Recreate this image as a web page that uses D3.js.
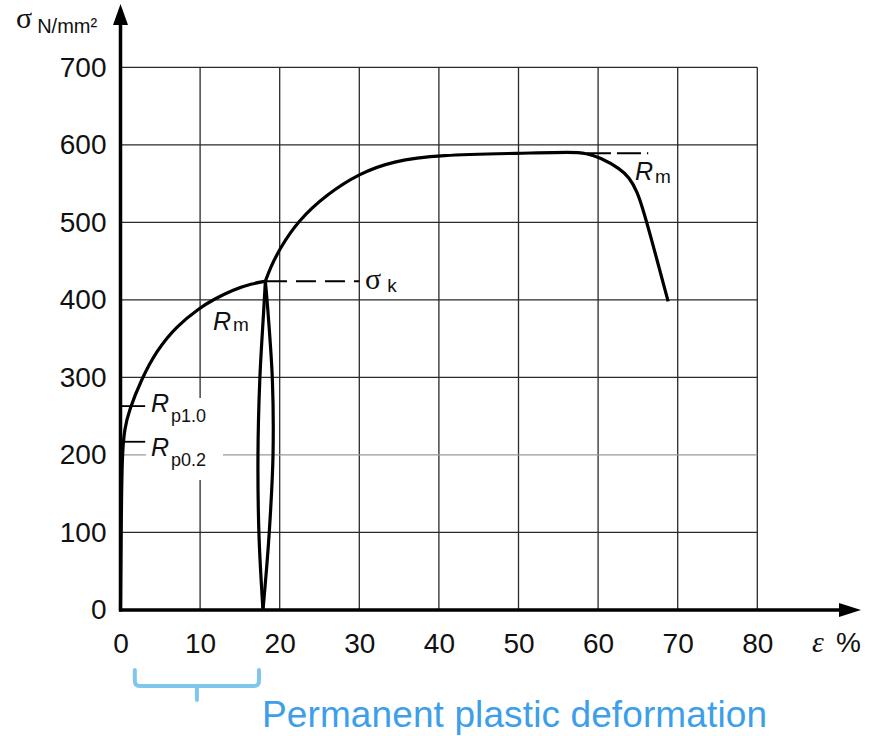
<!DOCTYPE html>
<html>
<head>
<meta charset="utf-8">
<script src="https://cdn.jsdelivr.net/npm/d3@7"></script>
<style>
  body { margin: 0; background: #fff; }
  svg { display: block; }
</style>
</head>
<body>
<script>
// strain (%) / stress (N/mm²) values
var xTicks = [0, 10, 20, 30, 40, 50, 60, 70, 80];
var yTicks = [0, 100, 200, 300, 400, 500, 600, 700];

// first loading up to the unloading point
var firstLoad = [[0, 0], [0.1, 120], [0.2, 200], [0.5, 234], [1.1, 258], [2.6, 297], [4.5, 334],
  [7, 366], [10, 390], [11.6, 400], [14.1, 413], [16.5, 421], [18.2, 424]];
// reloading after cold work, up to fracture
var reload = [[18.2, 424], [18.8, 441], [20, 466], [22.3, 502], [25.9, 536], [30, 563],
  [34.2, 579], [40, 587], [50.2, 589], [56.9, 591], [58.5, 589], [60.2, 584], [62.8, 569],
  [63.9, 558], [64.9, 540], [65.6, 518], [66.4, 490], [68.8, 398]];
// unloading / reloading loop
var loopLeft = [[17.9, 0], [17.4, 96], [17.27, 200], [17.5, 297], [18.0, 388], [18.2, 424]];
var loopRight = [[17.9, 0], [18.66, 96], [19.16, 200], [19.08, 297], [18.5, 388], [18.2, 424]];

var sigmaK = 424, rmTop = 589, rp10 = 263, rp02 = 217;

var W = 871, H = 736;
var svg = d3.select("body").append("svg").attr("width", W).attr("height", H);

var x = d3.scaleLinear().domain([0, 80]).range([120.5, 757.3]);
var y = d3.scaleLinear().domain([0, 700]).range([610, 67.3]);

var sans = "'Liberation Sans', Arial, sans-serif";
var serif = "'Liberation Serif', 'Times New Roman', serif";

// grid
var grid = svg.append("g");
grid.selectAll(".vx").data(xTicks.slice(1)).enter().append("line")
  .attr("x1", d => x(d)).attr("x2", d => x(d))
  .attr("y1", y(0)).attr("y2", y(700))
  .attr("stroke", "#2a2a2a").attr("stroke-width", 1.3);
grid.selectAll(".hy").data(yTicks.slice(1)).enter().append("line")
  .attr("x1", x(0)).attr("x2", x(80))
  .attr("y1", d => y(d)).attr("y2", d => y(d))
  .attr("stroke", d => d === 200 ? "#9a9a9a" : "#2a2a2a").attr("stroke-width", 1.3);

// white box behind Rp labels
svg.append("rect").attr("x", 146).attr("y", 398).attr("width", 77).attr("height", 82).attr("fill", "#fff");

// axes tick labels
var yAxis = svg.append("g").attr("transform", "translate(" + x(0) + ",0)")
  .call(d3.axisLeft(y).tickValues(yTicks).tickSize(0).tickPadding(14).tickFormat(d3.format("d")));
yAxis.select(".domain").remove();
yAxis.selectAll("text").attr("font-family", sans).attr("font-size", 28).attr("fill", "#111");

var xAxis = svg.append("g").attr("transform", "translate(0," + y(0) + ")")
  .call(d3.axisBottom(x).tickValues(xTicks).tickSize(0).tickPadding(23).tickFormat(d3.format("d")));
xAxis.select(".domain").remove();
xAxis.selectAll("text").attr("font-family", sans).attr("font-size", 28).attr("fill", "#111");

// axis lines with arrows
svg.append("line").attr("x1", x(0)).attr("x2", x(0)).attr("y1", y(0) + 1.5).attr("y2", 22)
  .attr("stroke", "#000").attr("stroke-width", 3.5);
svg.append("path").attr("d", "M" + x(0) + ",4 L" + (x(0) - 7.5) + ",25 L" + (x(0) + 7.5) + ",25 Z").attr("fill", "#000");
svg.append("line").attr("x1", x(0) - 1.5).attr("x2", 842).attr("y1", y(0)).attr("y2", y(0))
  .attr("stroke", "#000").attr("stroke-width", 3.5);
svg.append("path").attr("d", "M861," + y(0) + " L839," + (y(0) - 7) + " L839," + (y(0) + 7) + " Z").attr("fill", "#000");

// curves
var smooth = d3.line().x(d => x(d[0])).y(d => y(d[1])).curve(d3.curveBasis);
var loop = d3.line().x(d => x(d[0])).y(d => y(d[1])).curve(d3.curveCatmullRom.alpha(0.5));
[firstLoad, reload].forEach(function(s) {
  svg.append("path").attr("d", smooth(s)).attr("fill", "none")
    .attr("stroke", "#000").attr("stroke-width", 3.2).attr("stroke-linejoin", "round");
});
[loopLeft, loopRight].forEach(function(s) {
  svg.append("path").attr("d", loop(s)).attr("fill", "none")
    .attr("stroke", "#000").attr("stroke-width", 3.2).attr("stroke-linejoin", "round");
});

// dashed markers
svg.append("line").attr("x1", x(18.4)).attr("x2", x(30)).attr("y1", y(sigmaK)).attr("y2", y(sigmaK))
  .attr("stroke", "#000").attr("stroke-width", 2).attr("stroke-dasharray", "20,9");
svg.append("line").attr("x1", x(58.6)).attr("x2", x(66.3)).attr("y1", y(rmTop)).attr("y2", y(rmTop))
  .attr("stroke", "#000").attr("stroke-width", 2).attr("stroke-dasharray", "24,6");
[rp10, rp02].forEach(function(v) {
  svg.append("line").attr("x1", x(0)).attr("x2", x(3.1)).attr("y1", y(v)).attr("y2", y(v))
    .attr("stroke", "#000").attr("stroke-width", 1.8);
});

// labels
function label(tx, ty, main, sub, mainFont, mainSize, subSize, subDy, italic, subDx) {
  var t = svg.append("text").attr("x", tx).attr("y", ty).attr("fill", "#111");
  t.append("tspan").text(main).attr("font-family", mainFont).attr("font-size", mainSize)
    .attr("font-style", italic ? "italic" : "normal");
  t.append("tspan").text(sub).attr("font-family", sans).attr("font-size", subSize)
    .attr("dx", subDx || 2).attr("dy", subDy);
  return t;
}
label(151, 412, "R", "p1.0", sans, 25, 18, 10, true);
label(151, 456, "R", "p0.2", sans, 25, 18, 10, true);
label(213, 330, "R", "m", sans, 25, 19, 1, true);
label(635, 180, "R", "m", sans, 25, 19, 3, true);
label(365, 289, "σ", "k", serif, 30, 19, 3, false, 6);
label(16, 28, "σ", "N/mm²", serif, 30, 20, 5, false, 5);

svg.append("text").attr("x", 812).attr("y", 652).attr("font-family", serif).attr("font-style", "italic")
  .attr("font-size", 30).attr("fill", "#111").text("ε");
svg.append("text").attr("x", 836).attr("y", 652).attr("font-family", sans)
  .attr("font-size", 28).attr("fill", "#111").text("%");

// bracket for permanent deformation
var bx0 = x(1.8), bx1 = x(17.4), bm = (bx0 + bx1) / 2, bt = 670, bb = 686, r = 5;
svg.append("path")
  .attr("d", "M" + bx0 + "," + bt + " L" + bx0 + "," + (bb - r) + " Q" + bx0 + "," + bb + " " + (bx0 + r) + "," + bb +
    " L" + (bx1 - r) + "," + bb + " Q" + bx1 + "," + bb + " " + bx1 + "," + (bb - r) + " L" + bx1 + "," + bt +
    " M" + bm + "," + bb + " L" + bm + "," + 700)
  .attr("fill", "none").attr("stroke", "#7fc6ee").attr("stroke-width", 4).attr("stroke-linecap", "round");

svg.append("text").attr("x", 262).attr("y", 727).attr("font-family", sans).attr("font-size", 37)
  .attr("textLength", 505).attr("fill", "#3d9ee9").text("Permanent plastic deformation");
</script>
</body>
</html>
